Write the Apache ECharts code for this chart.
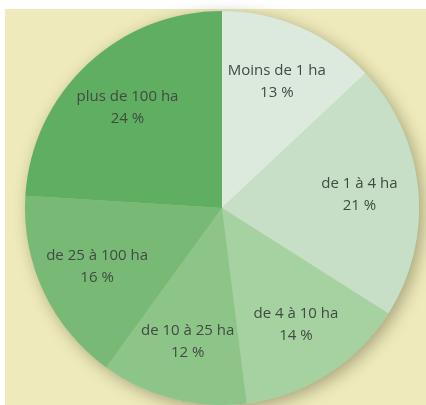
<!DOCTYPE html>
<html>
<head>
<meta charset="utf-8">
<script src="https://cdn.jsdelivr.net/npm/echarts@6/dist/echarts.min.js"></script>
<style>
  html, body { margin: 0; padding: 0; background: #ffffff; }
  #main { width: 426px; height: 405px; }
</style>
</head>
<body>
<div id="main"></div>
<script>
// classes de surface, dans l'ordre des aiguilles d'une montre depuis midi
var categories = ['Moins de 1 ha', 'de 1 à 4 ha', 'de 4 à 10 ha', 'de 10 à 25 ha', 'de 25 à 100 ha', 'plus de 100 ha'];
var values = [13, 21, 14, 12, 16, 24];
var colors = ['#dce9dd', '#c6dfc6', '#a6d1a1', '#8dc589', '#78ba75', '#5fae61'];

var CX = 222, CY = 208, R = 197;

var myChart = echarts.init(document.getElementById('main'));

var datas = categories.map(function (name, i) {
    return { name: name, value: values[i], itemStyle: { color: colors[i] } };
});

var option = {
    animation: false,
    graphic: [{
        type: 'rect',
        z: -10,
        shape: { x: 5, y: 9, width: 421, height: 396 },
        style: { fill: '#eeeabb' }
    }],
    series: [
        {
            // ombre portée sous le camembert
            type: 'pie',
            silent: true,
            center: [CX, CY],
            radius: R,
            z: 1,
            label: { show: false },
            labelLine: { show: false },
            itemStyle: {
                color: '#c9cfa8',
                shadowBlur: 16,
                shadowOffsetX: 4,
                shadowOffsetY: 4,
                shadowColor: 'rgba(60,60,30,0.4)'
            },
            data: [1]
        },
        {
            type: 'pie',
            center: [CX, CY],
            radius: R,
            startAngle: 90,
            clockwise: true,
            z: 2,
            silent: true,
            itemStyle: { borderWidth: 0 },
            label: {
                show: true,
                position: 'inside',
                formatter: function (p) { return p.name + '\n' + p.value + ' %'; },
                color: '#404c42',
                fontFamily: 'Open Sans',
                fontSize: 15,
                lineHeight: 22,
                align: 'center'
            },
            labelLine: { show: false },
            labelLayout: function (params) {
                var r = params.labelRect;
                var x = r.x + r.width / 2, y = r.y + r.height / 2;
                return { dx: (x - CX) * 0.36, dy: (y - CY) * 0.36 };
            },
            data: datas
        }
    ]
};
myChart.setOption(option);
</script>
</body>
</html>
